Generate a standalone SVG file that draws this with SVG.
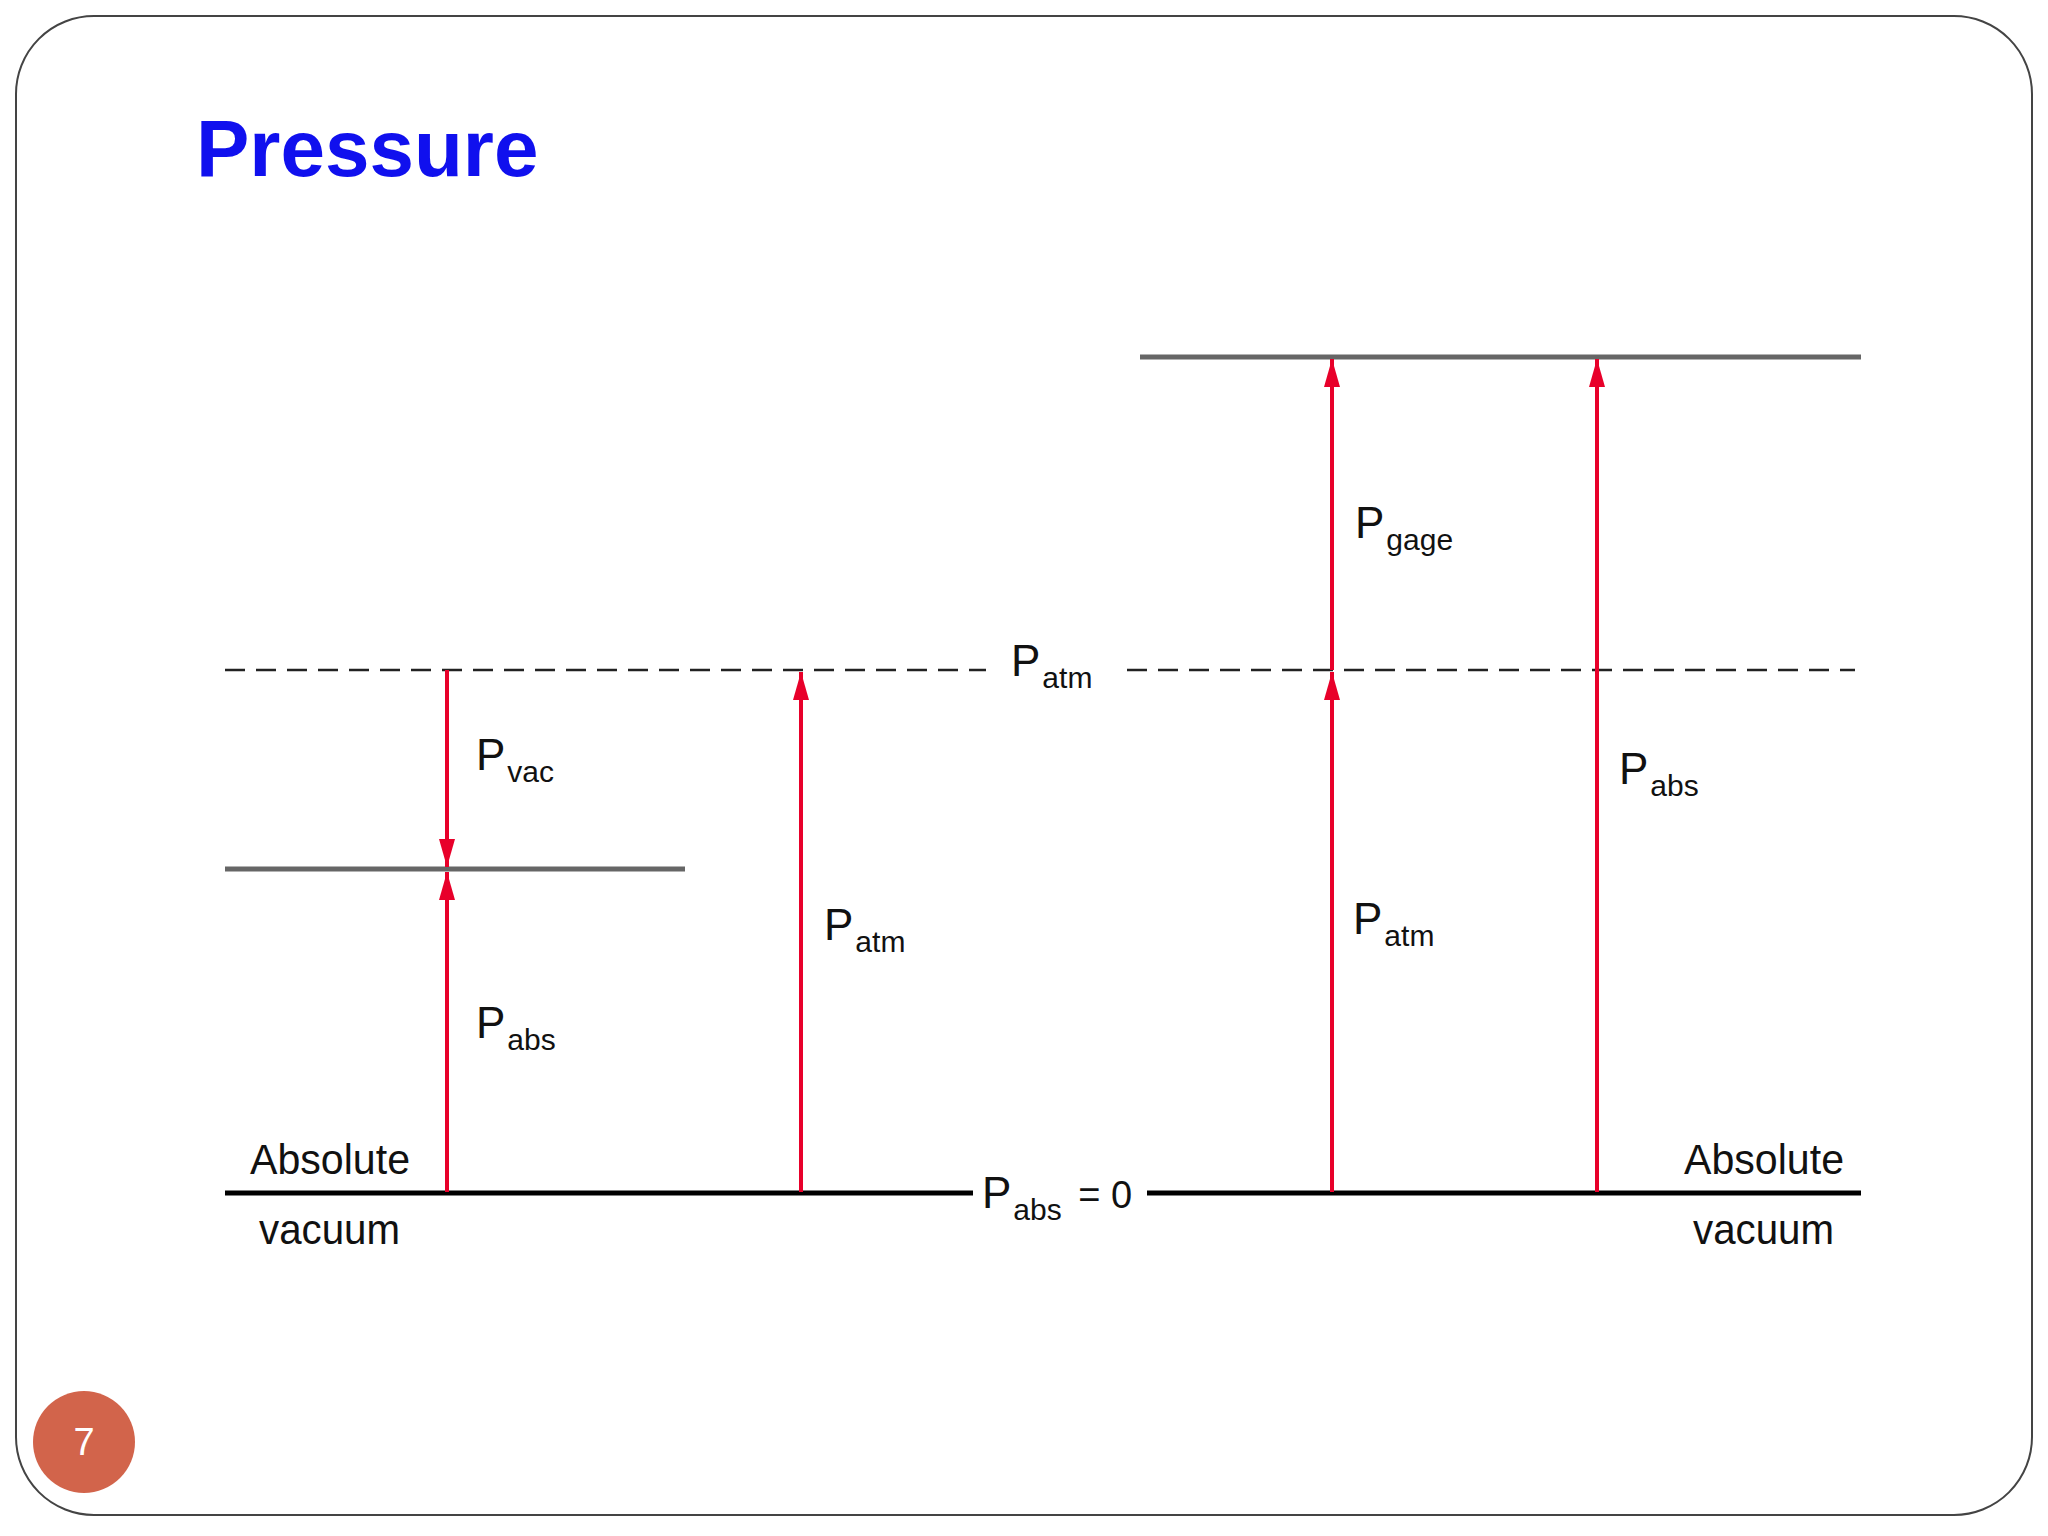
<svg xmlns="http://www.w3.org/2000/svg" width="2048" height="1536" viewBox="0 0 2048 1536">
<defs>
<marker id="a" viewBox="0 0 10 10" refX="10" refY="5" markerWidth="28" markerHeight="16" preserveAspectRatio="none" orient="auto" markerUnits="userSpaceOnUse">
<path d="M0,0 L10,5 L0,10 z" fill="#e8002a"/>
</marker>
</defs>
<style>
.t{font-family:"Liberation Sans",Arial,sans-serif;fill:#111}
.p{font-size:44px}
.s{font-size:30px}
.lb{font-size:43px}
.ar{stroke:#e8002a;stroke-width:4;fill:none;marker-end:url(#a)}
</style>
<rect x="16" y="16" width="2016" height="1499" rx="78" fill="#fff" stroke="#444" stroke-width="2"/>
<text x="196" y="176" font-family="Liberation Sans,Arial,sans-serif" font-weight="bold" font-size="80" fill="#1010ee">Pressure</text>
<g id="levels">
<line x1="1140" y1="357" x2="1861" y2="357" stroke="#666" stroke-width="5"/>
<line x1="225" y1="869" x2="685" y2="869" stroke="#666" stroke-width="5"/>
<line x1="225" y1="670" x2="986" y2="670" stroke="#222" stroke-width="2.5" stroke-dasharray="20,11"/>
<line x1="1127" y1="670" x2="1855" y2="670" stroke="#222" stroke-width="2.5" stroke-dasharray="20,11"/>
<line x1="225" y1="1193" x2="973" y2="1193" stroke="#000" stroke-width="5"/>
<line x1="1147" y1="1193" x2="1861" y2="1193" stroke="#000" stroke-width="5"/>
</g>
<g id="connectors">
<line class="ar" x1="447" y1="670" x2="447" y2="867"/>
<line class="ar" x1="447" y1="1192" x2="447" y2="872"/>
<line class="ar" x1="801" y1="1192" x2="801" y2="672"/>
<line class="ar" x1="1332" y1="1192" x2="1332" y2="672"/>
<line class="ar" x1="1332" y1="670" x2="1332" y2="359"/>
<line class="ar" x1="1597" y1="1192" x2="1597" y2="359"/>
</g>
<g id="labels">
<text class="t p" x="476" y="770">P<tspan class="s" dx="2" dy="12">vac</tspan></text>
<text class="t p" x="476" y="1038">P<tspan class="s" dx="2" dy="12">abs</tspan></text>
<text class="t p" x="824" y="940">P<tspan class="s" dx="2" dy="12">atm</tspan></text>
<text class="t p" x="1011" y="676">P<tspan class="s" dx="2" dy="12">atm</tspan></text>
<text class="t p" x="1355" y="538">P<tspan class="s" dx="2" dy="12">gage</tspan></text>
<text class="t p" x="1353" y="934">P<tspan class="s" dx="2" dy="12">atm</tspan></text>
<text class="t p" x="1619" y="784">P<tspan class="s" dx="2" dy="12">abs</tspan></text>
<text class="t p" x="982" y="1208">P<tspan class="s" dx="2" dy="12">abs</tspan><tspan dx="6" dy="-12" font-size="38"> = 0</tspan></text>
<text class="t lb" x="250" y="1174" textLength="160" lengthAdjust="spacingAndGlyphs">Absolute</text>
<text class="t lb" x="259" y="1244" textLength="141" lengthAdjust="spacingAndGlyphs">vacuum</text>
<text class="t lb" x="1684" y="1174" textLength="160" lengthAdjust="spacingAndGlyphs">Absolute</text>
<text class="t lb" x="1693" y="1244" textLength="141" lengthAdjust="spacingAndGlyphs">vacuum</text>
</g>
<g id="page">
<circle cx="84" cy="1442" r="51" fill="#d2644b"/>
<text x="84" y="1455" text-anchor="middle" font-family="Liberation Sans,Arial,sans-serif" font-size="38" fill="#fff">7</text>
</g>
</svg>
